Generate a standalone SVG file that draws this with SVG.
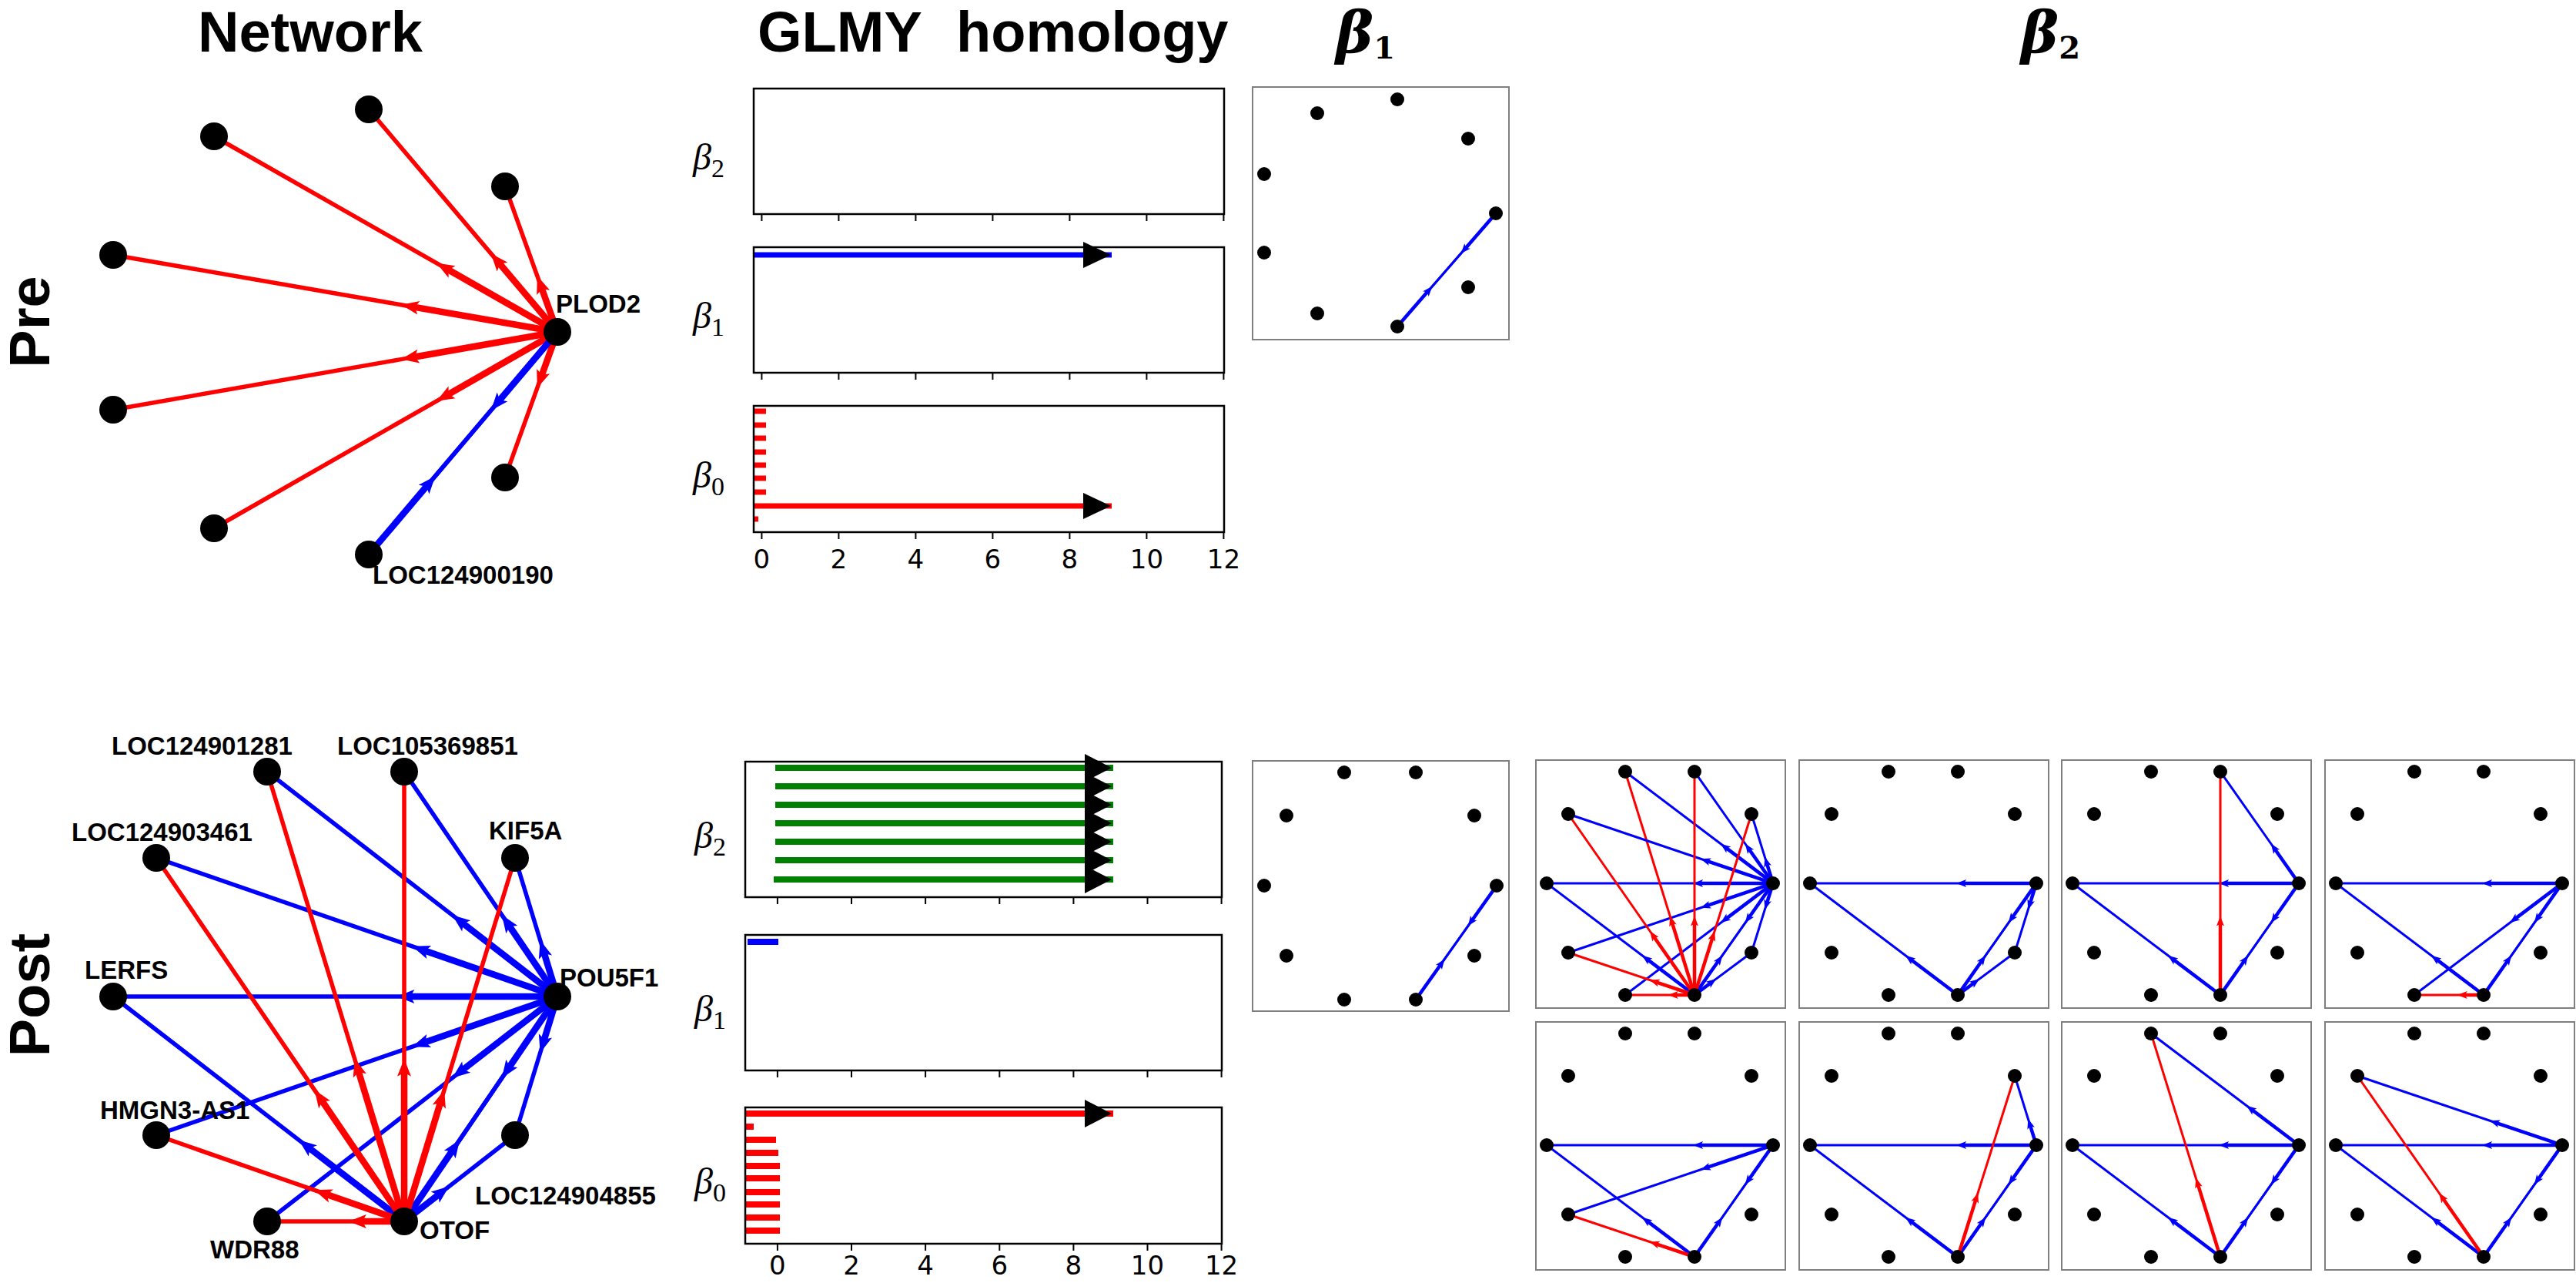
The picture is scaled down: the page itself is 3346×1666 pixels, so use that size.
<svg xmlns="http://www.w3.org/2000/svg" width="3346" height="1666" viewBox="0 0 3346 1666">
<style>
text{fill:#000}
.t{font-family:"Liberation Sans",Arial,sans-serif;font-weight:bold}
.ttl{font-size:74px}
.lbl{font-size:33px}
.tk{font-family:"DejaVu Sans",sans-serif;font-size:34px;text-anchor:middle}
.bl{font-family:"Liberation Serif","DejaVu Serif",serif;font-style:italic;font-size:48px}
.bl tspan{font-style:normal;font-size:34px}
.bt{font-family:"DejaVu Serif","Liberation Serif",serif;font-style:italic;font-weight:bold;font-size:74px}
.bt tspan{font-style:normal;font-size:40px}
.r{stroke:#f00;fill:none}
.b{stroke:#00f;fill:none}
.g{stroke:#008000;fill:none}
.w1{stroke-width:5.5}
.w2{stroke-width:8.5}
.p1{stroke-width:3}
.p2{stroke-width:4.5}
.box{fill:none;stroke:#000;stroke-width:2.5}
.pb{fill:#fff;stroke:#7f7f7f;stroke-width:2}
.tkl{stroke:#000;stroke-width:2;fill:none}
.bar{stroke-width:7}
.bar2{stroke-width:8}
</style>
<defs>
<marker id="aR" markerUnits="userSpaceOnUse" viewBox="-24 -11 26 22" markerWidth="26" markerHeight="22" refX="0" refY="0" orient="auto"><path d="M1,0L-22,-9L-17,0L-22,9Z" fill="#f00"/></marker>
<marker id="aB" markerUnits="userSpaceOnUse" viewBox="-24 -11 26 22" markerWidth="26" markerHeight="22" refX="0" refY="0" orient="auto"><path d="M1,0L-22,-9L-17,0L-22,9Z" fill="#00f"/></marker>
<marker id="pR" markerUnits="userSpaceOnUse" viewBox="-14 -7 16 14" markerWidth="16" markerHeight="14" refX="0" refY="0" orient="auto"><path d="M1,0L-12,-5L-9,0L-12,5Z" fill="#f00"/></marker>
<marker id="pB" markerUnits="userSpaceOnUse" viewBox="-14 -7 16 14" markerWidth="16" markerHeight="14" refX="0" refY="0" orient="auto"><path d="M1,0L-12,-5L-9,0L-12,5Z" fill="#00f"/></marker>
<g id="dots">
<circle cx="116" cy="15" r="9"/><circle cx="206" cy="15" r="9"/><circle cx="42" cy="70" r="9"/><circle cx="280" cy="70" r="9"/><circle cx="14" cy="160" r="9"/><circle cx="308" cy="160" r="9"/><circle cx="42" cy="250" r="9"/><circle cx="280" cy="250" r="9"/><circle cx="116" cy="305" r="9"/><circle cx="206" cy="305" r="9"/>
</g>
<g id="core">
<path class="b p2" d="M308 160L213.1 160"/><path class="b p1" d="M308 160L205.1 160L14 160" marker-mid="url(#pB)"/>
<path class="b p2" d="M206 305L145.2 259.1"/><path class="b p1" d="M206 305L138.8 254.25L14 160" marker-mid="url(#pB)"/>
<path class="b p2" d="M308 160L276.9 204.2"/><path class="b p1" d="M308 160L272.3 210.75L206 305" marker-mid="url(#pB)"/>
<path class="b p2" d="M206 305L237.1 260.8"/><path class="b p1" d="M206 305L241.7 254.25L308 160" marker-mid="url(#pB)"/>
</g>
<g id="xN8">
<path class="b p2" d="M308 160L300 185.7"/><path class="b p1" d="M308 160L297.6 193.3L280 250" marker-mid="url(#pB)"/>
<path class="b p2" d="M206 305L227 289.4"/><path class="b p1" d="M206 305L233.4 284.65L280 250" marker-mid="url(#pB)"/>
</g>
<g id="xN2">
<path class="b p2" d="M308 160L276.9 115.8"/><path class="b p1" d="M308 160L272.3 109.25L206 15" marker-mid="url(#pB)"/>
<path class="r p2" d="M206 305L206 211.5"/><path class="r p1" d="M206 305L206 203.5L206 15" marker-mid="url(#pR)"/>
</g>
<g id="xW">
<path class="b p2" d="M308 160L247.2 205.9"/><path class="b p1" d="M308 160L240.8 210.75L116 305" marker-mid="url(#pB)"/>
<path class="r p2" d="M206 305L180.7 305"/><path class="r p1" d="M206 305L172.7 305L116 305" marker-mid="url(#pR)"/>
</g>
<g id="xN7">
<path class="b p2" d="M308 160L222.5 188.9"/><path class="b p1" d="M308 160L214.9 191.5L42 250" marker-mid="url(#pB)"/>
<path class="r p2" d="M206 305L156.2 288.3"/><path class="r p1" d="M206 305L148.6 285.75L42 250" marker-mid="url(#pR)"/>
</g>
<g id="xN4">
<path class="b p2" d="M308 160L300 134.3"/><path class="b p1" d="M308 160L297.6 126.7L280 70" marker-mid="url(#pB)"/>
<path class="r p2" d="M206 305L229.5 230.4"/><path class="r p1" d="M206 305L231.9 222.75L280 70" marker-mid="url(#pR)"/>
</g>
<g id="xN1">
<path class="b p2" d="M308 160L247.2 114.1"/><path class="b p1" d="M308 160L240.8 109.25L116 15" marker-mid="url(#pB)"/>
<path class="r p2" d="M206 305L176.9 211.1"/><path class="r p1" d="M206 305L174.5 203.5L116 15" marker-mid="url(#pR)"/>
</g>
<g id="xN3">
<path class="b p2" d="M308 160L222.5 131.1"/><path class="b p1" d="M308 160L214.9 128.5L42 70" marker-mid="url(#pB)"/>
<path class="r p2" d="M206 305L153.2 229.3"/><path class="r p1" d="M206 305L148.6 222.75L42 70" marker-mid="url(#pR)"/>
</g>
</defs>
<rect width="3346" height="1666" fill="#fff"/>

<!-- titles -->
<g id="titles">
<text class="t ttl" x="403" y="67" text-anchor="middle">Network</text>
<text class="t ttl" y="67"><tspan x="984">GLMY</tspan><tspan x="1242">homology</tspan></text>
<text class="bt" x="1735" y="68">β<tspan dy="8">1</tspan></text>
<text class="bt" x="2625" y="68">β<tspan dy="8">2</tspan></text>
<text class="t ttl" transform="translate(64 418) rotate(-90)" text-anchor="middle">Pre</text>
<text class="t ttl" transform="translate(64 1292) rotate(-90)" text-anchor="middle">Post</text>
</g>

<!-- Pre network -->
<g id="pre-edges">
<path class="r w2" d="M724 431L647.4 340.6"/><path class="r w1" d="M724 431L638.3 329.9L479 142" marker-mid="url(#aR)"/>
<path class="r w2" d="M724 431L580.1 349"/><path class="r w1" d="M724 431L567.9 342.1L278 177" marker-mid="url(#aR)"/>
<path class="r w2" d="M724 431L702.9 372.4"/><path class="r w1" d="M724 431L698.2 359.2L656 242" marker-mid="url(#aR)"/>
<path class="r w2" d="M724 431L535.9 398.4"/><path class="r w1" d="M724 431L522.1 396L147 331" marker-mid="url(#aR)"/>
<path class="r w2" d="M724 431L535.9 464"/><path class="r w1" d="M724 431L522.1 466.4L147 532" marker-mid="url(#aR)"/>
<path class="r w2" d="M724 431L702.9 489.6"/><path class="r w1" d="M724 431L698.2 502.8L656 620" marker-mid="url(#aR)"/>
<path class="r w2" d="M724 431L580.1 513.4"/><path class="r w1" d="M724 431L567.9 520.3L278 686" marker-mid="url(#aR)"/>
<path class="b w2" d="M724 431L647.4 521.5"/><path class="b w1" d="M724 431L638.3 532.2L479 720" marker-mid="url(#aB)"/>
<path class="b w2" d="M479 720L555.7 629.6"/><path class="b w1" d="M479 720L564.8 618.9L724 431" marker-mid="url(#aB)"/>
</g>
<g id="pre-n1"><circle cx="479" cy="142" r="18"/></g>
<g id="pre-n2"><circle cx="278" cy="177" r="18"/></g>
<g id="pre-n3"><circle cx="656" cy="242" r="18"/></g>
<g id="pre-n4"><circle cx="147" cy="331" r="18"/></g>
<g id="pre-plod2"><circle cx="724" cy="431" r="18"/><text class="t lbl" x="722" y="406">PLOD2</text></g>
<g id="pre-n6"><circle cx="147" cy="532" r="18"/></g>
<g id="pre-n7"><circle cx="656" cy="620" r="18"/></g>
<g id="pre-n8"><circle cx="278" cy="686" r="18"/></g>
<g id="pre-loc124900190"><circle cx="479" cy="720" r="18"/><text class="t lbl" x="484" y="758">LOC124900190</text></g>

<!-- Post network -->
<g id="post-network" transform="translate(0 -6)">
<g id="post-edges">
<path class="b w2" d="M724 1300L599.4 1203.5"/><path class="b w1" d="M724 1300L588.3 1194.9L347 1008" marker-mid="url(#aB)"/>
<path class="b w2" d="M724 1300L660.3 1206.5"/><path class="b w1" d="M724 1300L652.4 1194.9L525 1008" marker-mid="url(#aB)"/>
<path class="b w2" d="M724 1300L549.6 1239.8"/><path class="b w1" d="M724 1300L536.4 1235.2L203 1120" marker-mid="url(#aB)"/>
<path class="b w2" d="M724 1300L706.1 1241.4"/><path class="b w1" d="M724 1300L702 1228L669 1120" marker-mid="url(#aB)"/>
<path class="b w2" d="M724 1300L530.3 1300"/><path class="b w1" d="M724 1300L516.3 1300L147 1300" marker-mid="url(#aB)"/>
<path class="b w2" d="M724 1300L549.6 1360.2"/><path class="b w1" d="M724 1300L536.4 1364.8L203 1480" marker-mid="url(#aB)"/>
<path class="b w2" d="M724 1300L599.4 1396.5"/><path class="b w1" d="M724 1300L588.3 1405.1L347 1592" marker-mid="url(#aB)"/>
<path class="b w2" d="M724 1300L660.3 1393.5"/><path class="b w1" d="M724 1300L652.4 1405.1L525 1592" marker-mid="url(#aB)"/>
<path class="b w2" d="M525 1592L588.7 1498.5"/><path class="b w1" d="M525 1592L596.6 1486.9L724 1300" marker-mid="url(#aB)"/>
<path class="b w2" d="M724 1300L706.1 1358.6"/><path class="b w1" d="M724 1300L702 1372L669 1480" marker-mid="url(#aB)"/>
<path class="b w2" d="M525 1592L571.5 1555.8"/><path class="b w1" d="M525 1592L582.6 1547.2L669 1480" marker-mid="url(#aB)"/>
<path class="b w2" d="M525 1592L400 1495.5"/><path class="b w1" d="M525 1592L388.9 1486.9L147 1300" marker-mid="url(#aB)"/>
<path class="r w2" d="M525 1592L465 1395.2"/><path class="r w1" d="M525 1592L460.9 1381.8L347 1008" marker-mid="url(#aR)"/>
<path class="r w2" d="M525 1592L525 1395.8"/><path class="r w1" d="M525 1592L525 1381.8L525 1008" marker-mid="url(#aR)"/>
<path class="r w2" d="M525 1592L417 1433.7"/><path class="r w1" d="M525 1592L409.1 1422.1L203 1120" marker-mid="url(#aR)"/>
<path class="r w2" d="M525 1592L572.7 1435.5"/><path class="r w1" d="M525 1592L576.8 1422.1L669 1120" marker-mid="url(#aR)"/>
<path class="r w2" d="M525 1592L422.3 1556.3"/><path class="r w1" d="M525 1592L409.1 1551.7L203 1480" marker-mid="url(#aR)"/>
<path class="r w2" d="M525 1592L467.8 1592"/><path class="r w1" d="M525 1592L453.8 1592L347 1592" marker-mid="url(#aR)"/>
</g>
<g id="post-loc124901281"><circle cx="347" cy="1008" r="18"/><text class="t lbl" x="145" y="986">LOC124901281</text></g>
<g id="post-loc105369851"><circle cx="525" cy="1008" r="18"/><text class="t lbl" x="438" y="986">LOC105369851</text></g>
<g id="post-loc124903461"><circle cx="203" cy="1120" r="18"/><text class="t lbl" x="93" y="1098">LOC124903461</text></g>
<g id="post-kif5a"><circle cx="669" cy="1120" r="18"/><text class="t lbl" x="635" y="1096">KIF5A</text></g>
<g id="post-lerfs"><circle cx="147" cy="1300" r="18"/><text class="t lbl" x="110" y="1277">LERFS</text></g>
<g id="post-pou5f1"><circle cx="724" cy="1300" r="18"/><text class="t lbl" x="727" y="1287">POU5F1</text></g>
<g id="post-hmgn3-as1"><circle cx="203" cy="1480" r="18"/><text class="t lbl" x="130" y="1459">HMGN3-AS1</text></g>
<g id="post-loc124904855"><circle cx="669" cy="1480" r="18"/><text class="t lbl" x="617" y="1570">LOC124904855</text></g>
<g id="post-wdr88"><circle cx="347" cy="1592" r="18"/><text class="t lbl" x="273" y="1640">WDR88</text></g>
<g id="post-otof"><circle cx="525" cy="1592" r="18"/><text class="t lbl" x="545" y="1615">OTOF</text></g>
</g>

<!-- Pre GLMY barcodes -->
<g id="pre-glmy">
<path class="b bar" d="M979 331H1444"/>
<path d="M1407 314L1443 331L1407 348Z"/>
<path class="r bar" d="M979 534H995M979 552H995M979 569H995M979 587H995M979 604H995M979 621H995M979 639H995M979 674H985M979 657H1444"/>
<path d="M1407 640L1443 657L1407 674Z"/>
<rect class="box" x="979" y="115" width="611" height="163"/>
<rect class="box" x="979" y="321" width="611" height="163"/>
<rect class="box" x="979" y="527" width="611" height="164"/>
<path class="tkl" d="M989.4 278v9M1089.4 278v9M1189.4 278v9M1289.4 278v9M1389.4 278v9M1489.4 278v9M1589.4 278v9M989.4 484v9M1089.4 484v9M1189.4 484v9M1289.4 484v9M1389.4 484v9M1489.4 484v9M1589.4 484v9M989.4 691v9M1089.4 691v9M1189.4 691v9M1289.4 691v9M1389.4 691v9M1489.4 691v9M1589.4 691v9"/>
<text class="tk" y="738"><tspan x="989.4">0</tspan><tspan x="1089.4">2</tspan><tspan x="1189.4">4</tspan><tspan x="1289.4">6</tspan><tspan x="1389.4">8</tspan><tspan x="1489.4">10</tspan><tspan x="1589.4">12</tspan></text>
<text class="bl" x="900" y="220">β<tspan dy="10">2</tspan></text>
<text class="bl" x="900" y="426">β<tspan dy="10">1</tspan></text>
<text class="bl" x="900" y="633">β<tspan dy="10">0</tspan></text>
</g>

<!-- Post GLMY barcodes -->
<g id="post-glmy">
<path class="g bar2" d="M1007 997H1446M1007 1021H1446M1007 1045H1446M1007 1069H1446M1007 1093H1446M1007 1117H1446M1005 1142H1446"/>
<path d="M1409 979L1444 997L1409 1015ZM1409 1003L1444 1021L1409 1039ZM1409 1027L1444 1045L1409 1063ZM1409 1051L1444 1069L1409 1087ZM1409 1075L1444 1093L1409 1111ZM1409 1099L1444 1117L1409 1135ZM1409 1124L1444 1142L1409 1160Z"/>
<path class="b bar2" d="M971 1223H1011"/>
<path class="r bar2" d="M968 1446H1446M968 1463H979M968 1480H1008M968 1497H1011M968 1514H1013M968 1530H1013M968 1548H1013M968 1564H1013M968 1581H1013M968 1598H1013"/>
<path d="M1409 1428L1444 1446L1409 1464Z"/>
<rect class="box" x="968" y="989" width="619" height="176"/>
<rect class="box" x="968" y="1214" width="619" height="176"/>
<rect class="box" x="968" y="1438" width="619" height="177"/>
<path class="tkl" d="M1009.9 1165v9M1106 1165v9M1202.1 1165v9M1298.3 1165v9M1394.4 1165v9M1490.5 1165v9M1586.6 1165v9M1009.9 1390v9M1106 1390v9M1202.1 1390v9M1298.3 1390v9M1394.4 1390v9M1490.5 1390v9M1586.6 1390v9M1009.9 1615v9M1106 1615v9M1202.1 1615v9M1298.3 1615v9M1394.4 1615v9M1490.5 1615v9M1586.6 1615v9"/>
<text class="tk" y="1655"><tspan x="1009.9">0</tspan><tspan x="1106">2</tspan><tspan x="1202.1">4</tspan><tspan x="1298.3">6</tspan><tspan x="1394.4">8</tspan><tspan x="1490.5">10</tspan><tspan x="1586.6">12</tspan></text>
<text class="bl" x="902" y="1101">β<tspan dy="10">2</tspan></text>
<text class="bl" x="902" y="1326">β<tspan dy="10">1</tspan></text>
<text class="bl" x="902" y="1550">β<tspan dy="10">0</tspan></text>
</g>

<!-- Pre beta1 panel -->
<g id="pre-b1">
<rect class="pb" x="1627" y="113" width="333" height="328"/>
<g class="edges">
<path class="b p2" d="M1943 277L1903.5 322.5"/><path class="b p1" d="M1943 277L1898.2 328.5L1815 424" marker-mid="url(#pB)"/>
<path class="b p2" d="M1815 424L1854.5 378.6"/><path class="b p1" d="M1815 424L1859.8 372.6L1943 277" marker-mid="url(#pB)"/>
</g>
<g><circle cx="1815" cy="129" r="9"/><circle cx="1711" cy="147" r="9"/><circle cx="1907" cy="180" r="9"/><circle cx="1642" cy="226" r="9"/><circle cx="1943" cy="277" r="9"/><circle cx="1642" cy="328" r="9"/><circle cx="1907" cy="373" r="9"/><circle cx="1711" cy="407" r="9"/><circle cx="1815" cy="424" r="9"/></g>
</g>

<!-- Post beta1 panel -->
<g id="post-b1">
<rect class="pb" x="1627" y="988" width="333" height="325"/>
<g class="edges">
<path class="b p2" d="M1944 1150L1911.9 1195.3"/><path class="b p1" d="M1944 1150L1907.3 1201.8L1839 1298" marker-mid="url(#pB)"/>
<path class="b p2" d="M1839 1298L1871.2 1252.7"/><path class="b p1" d="M1839 1298L1875.8 1246.2L1944 1150" marker-mid="url(#pB)"/>
</g>
<g><circle cx="1746" cy="1003" r="9"/><circle cx="1839" cy="1003" r="9"/><circle cx="1671" cy="1059" r="9"/><circle cx="1915" cy="1059" r="9"/><circle cx="1642" cy="1150" r="9"/><circle cx="1944" cy="1150" r="9"/><circle cx="1671" cy="1241" r="9"/><circle cx="1915" cy="1241" r="9"/><circle cx="1746" cy="1298" r="9"/><circle cx="1839" cy="1298" r="9"/></g>
</g>

<!-- Post beta2 panels -->
<g id="b2-1" transform="translate(1995 987)">
<rect class="pb" width="324" height="322"/>
<g class="edges"><use href="#core"/><use href="#xN8"/><use href="#xW"/><use href="#xN7"/><use href="#xN1"/><use href="#xN3"/><use href="#xN2"/><use href="#xN4"/></g>
<use href="#dots"/>
</g>
<g id="b2-2" transform="translate(2337 987)">
<rect class="pb" width="324" height="322"/>
<g class="edges"><use href="#core"/><use href="#xN8"/></g>
<use href="#dots"/>
</g>
<g id="b2-3" transform="translate(2678 987)">
<rect class="pb" width="324" height="322"/>
<g class="edges"><use href="#core"/><use href="#xN2"/></g>
<use href="#dots"/>
</g>
<g id="b2-4" transform="translate(3020 987)">
<rect class="pb" width="324" height="322"/>
<g class="edges"><use href="#core"/><use href="#xW"/></g>
<use href="#dots"/>
</g>
<g id="b2-5" transform="translate(1995 1327)">
<rect class="pb" width="324" height="322"/>
<g class="edges"><use href="#core"/><use href="#xN7"/></g>
<use href="#dots"/>
</g>
<g id="b2-6" transform="translate(2337 1327)">
<rect class="pb" width="324" height="322"/>
<g class="edges"><use href="#core"/><use href="#xN4"/></g>
<use href="#dots"/>
</g>
<g id="b2-7" transform="translate(2678 1327)">
<rect class="pb" width="324" height="322"/>
<g class="edges"><use href="#core"/><use href="#xN1"/></g>
<use href="#dots"/>
</g>
<g id="b2-8" transform="translate(3020 1327)">
<rect class="pb" width="324" height="322"/>
<g class="edges"><use href="#core"/><use href="#xN3"/></g>
<use href="#dots"/>
</g>
</svg>
